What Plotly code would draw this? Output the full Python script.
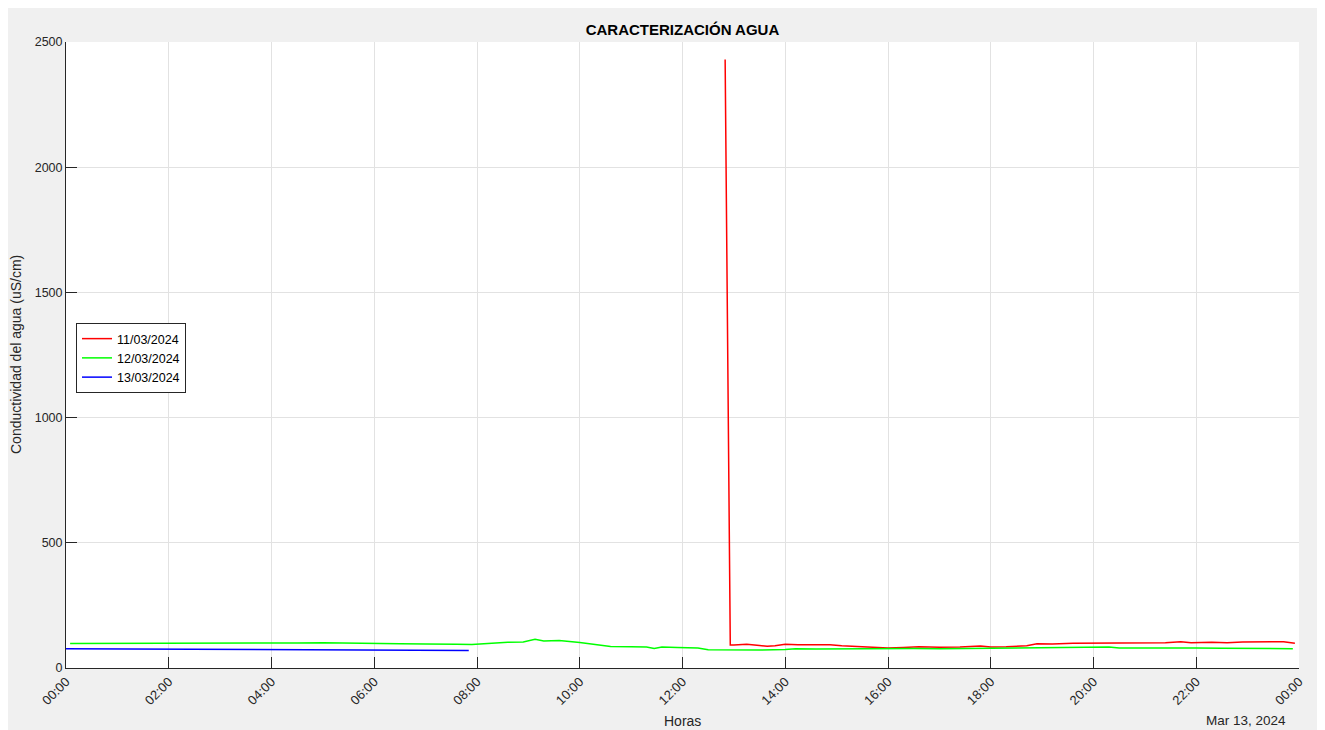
import pandas as pd
import plotly.graph_objects as go

# Hours of the day (decimal) and conductivity readings (uS/cm) for each day
horas_11 = [12.83, 12.93, 13.0, 13.25, 13.5, 13.65, 13.8, 14.0, 14.25, 14.5, 14.87, 15.1, 15.5,
            15.75, 16.0, 16.3, 16.6, 17.0, 17.4, 17.8, 18.0, 18.3, 18.7, 18.9, 19.2, 19.6, 20.0,
            20.5, 21.0, 21.4, 21.7, 21.9, 22.3, 22.6, 22.9, 23.3, 23.7, 23.92]
cond_11 = [2430, 92, 92, 95, 90, 87, 89, 95, 93, 92, 93, 89, 84,
           81, 80, 82, 85, 83, 84, 88, 84, 85, 89, 97, 96, 99, 100,
           100, 100, 101, 105, 101, 103, 101, 104, 106, 105, 99]

horas_12 = [0.08, 0.5, 1.0, 1.5, 2.0, 2.5, 3.0, 3.5, 4.0, 4.5, 5.0, 5.5, 6.0, 6.5, 7.0, 7.3,
            7.6, 7.9, 8.2, 8.6, 8.9, 9.13, 9.3, 9.6, 10.0, 10.3, 10.6, 11.0, 11.3, 11.45, 11.6,
            11.9, 12.15, 12.3, 12.5, 13.0, 13.5, 14.0, 14.2, 14.6, 15.0, 15.5, 16.0, 16.5, 17.0,
            17.5, 18.0, 18.5, 19.0, 19.5, 20.0, 20.3, 20.5, 21.0, 21.5, 22.0, 22.5, 23.0, 23.5, 23.88]
cond_12 = [98, 98, 100, 99, 97, 98, 97, 98, 99, 100, 101, 99, 98, 97, 96, 94,
           95, 94, 98, 103, 104, 115, 108, 110, 102, 95, 86, 85, 84, 78, 84,
           82, 80, 80, 73, 71, 72, 74, 77, 76, 77, 77, 78, 78, 77,
           78, 79, 79, 80, 81, 82, 84, 80, 81, 80, 80, 79, 78, 77, 77]

horas_13 = [0.0, 1.0, 2.0, 3.0, 4.0, 5.0, 6.0, 6.5, 7.0, 7.5, 7.84]
cond_13 = [77, 76, 75, 74, 72, 71, 71, 70, 69, 69, 70]

series = [
    ('11/03/2024', horas_11, cond_11, '#ff0000'),
    ('12/03/2024', horas_12, cond_12, '#00ff00'),
    ('13/03/2024', horas_13, cond_13, '#0000ff'),
]

base = pd.Timestamp('2024-03-12')

# figure sits 8px inside the page (body margin)
OFF = 8
W, H = 1310, 722
L, R, T, B = 58, 19, 34, 62
pw, ph = W - L - R, H - T - B


def px_x(page_x):
    return (page_x - OFF - L) / pw


def px_y(page_y):
    return (H - B - (page_y - OFF)) / ph


fig = go.Figure()
for name, hrs, vals, color in series:
    fig.add_trace(go.Scatter(
        x=base + pd.to_timedelta(hrs, unit='h'),
        y=vals,
        mode='lines',
        name=name,
        line=dict(color=color, width=1.5),
    ))

axis_col = '#262626'
fig.update_layout(
    width=W, height=H,
    margin=dict(l=L, r=R, t=T, b=B),
    paper_bgcolor='#f0f0f0',
    plot_bgcolor='white',
    font=dict(family='Liberation Sans, Arial, sans-serif', size=12, color=axis_col),
    title=dict(text='<b>CARACTERIZACIÓN AGUA</b>', x=0.5, xref='paper', xanchor='center',
               y=1 - (30 - OFF) / H, yanchor='middle', font=dict(size=15, color='black')),
    showlegend=True,
    legend=dict(x=px_x(76), y=px_y(323), xanchor='left', yanchor='top',
                bgcolor='white', bordercolor=axis_col, borderwidth=1,
                font=dict(size=12.5, color='black'), tracegroupgap=0),
    annotations=[
        dict(text='Horas', xref='paper', yref='paper', x=0.5, y=px_y(721),
             xanchor='center', yanchor='middle', showarrow=False, font=dict(size=14)),
        dict(text='Mar 13, 2024', xref='paper', yref='paper', x=px_x(1288),
             y=px_y(720), xanchor='right', yanchor='middle', showarrow=False,
             font=dict(size=13.5)),
        dict(text='Conductividad del agua (uS/cm)', xref='paper', yref='paper',
             x=px_x(16), y=0.5, textangle=-90, xanchor='center', yanchor='middle',
             showarrow=False, font=dict(size=14)),
    ],
)

fig.update_xaxes(
    type='date',
    range=[base, base + pd.Timedelta(hours=24)],
    tickformat='%H:%M', dtick=2 * 3600 * 1000, tick0=base,
    tickangle=-45, tickfont=dict(size=13),
    ticks='inside', ticklen=11, tickcolor=axis_col,
    showline=True, linecolor=axis_col, linewidth=1,
    showgrid=True, gridcolor='#e2e2e2', gridwidth=1,
    zeroline=False,
)
fig.update_yaxes(
    range=[0, 2500], dtick=500,
    tickfont=dict(size=12.5),
    ticks='inside', ticklen=11, tickcolor=axis_col,
    showline=True, linecolor=axis_col, linewidth=1,
    showgrid=True, gridcolor='#e2e2e2', gridwidth=1,
    zeroline=False,
)

fig.write_html('out.html')
